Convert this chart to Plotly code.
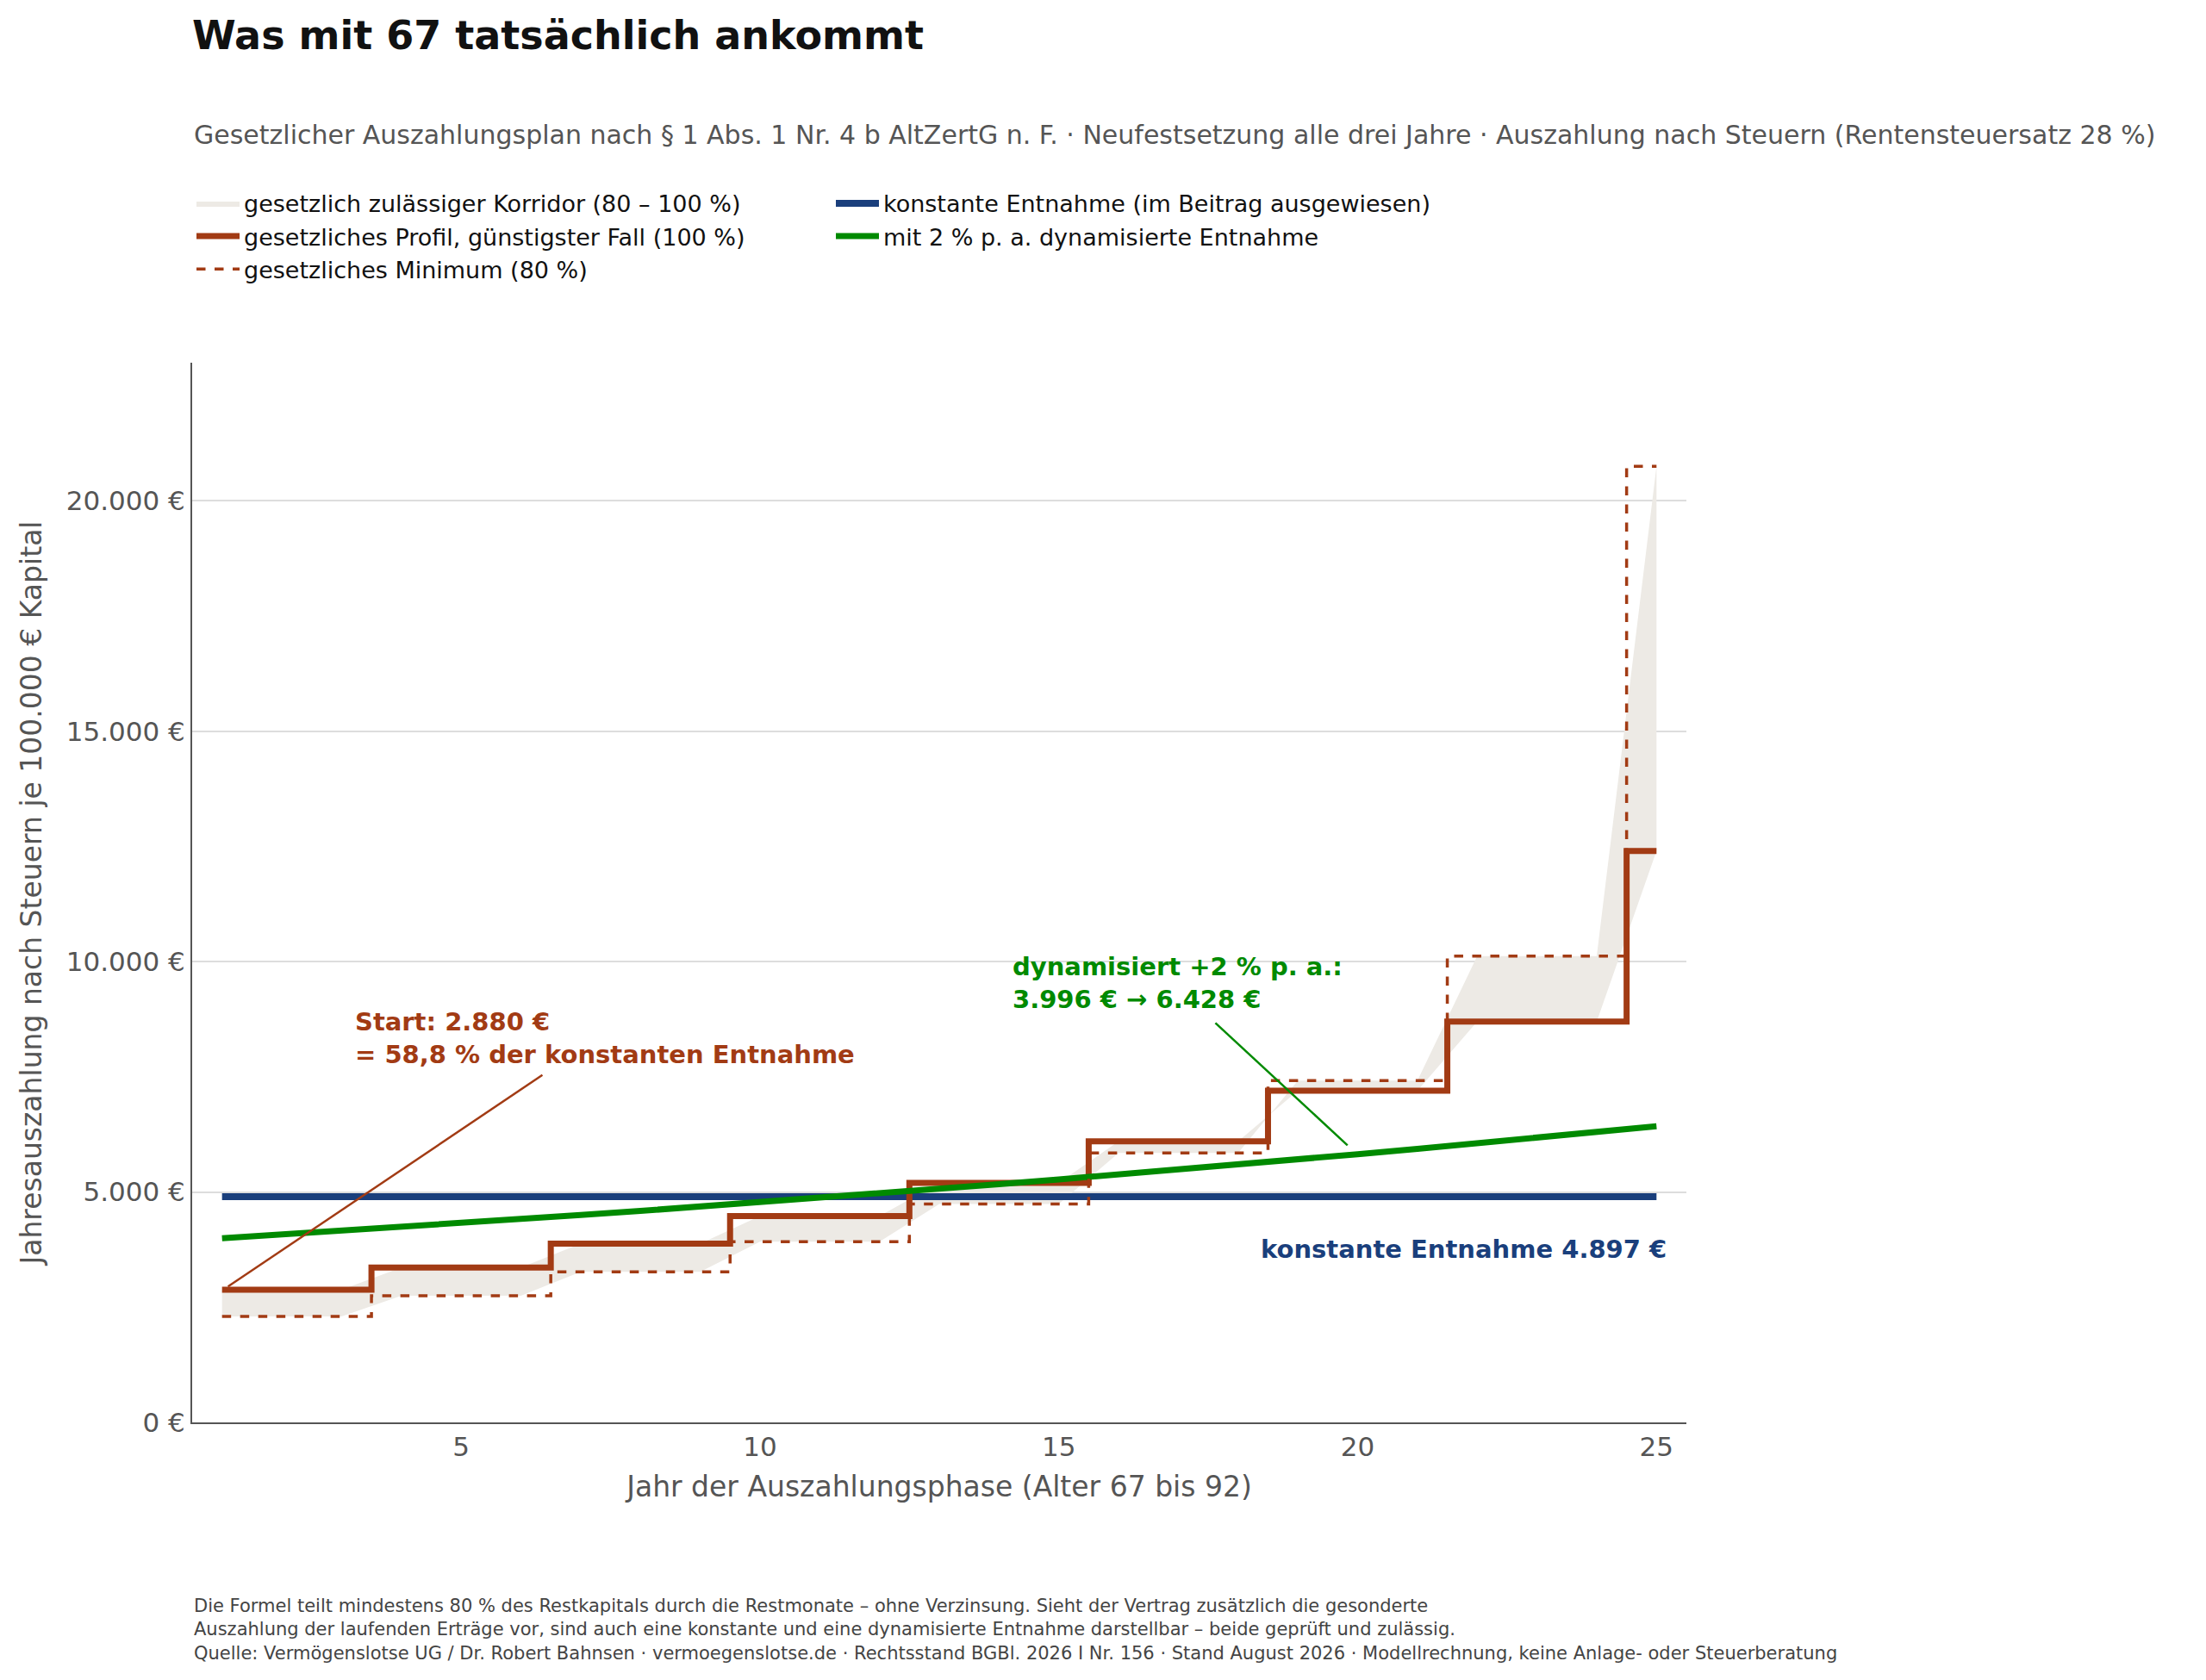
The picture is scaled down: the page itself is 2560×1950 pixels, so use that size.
import plotly.graph_objects as go

# Jahre der Auszahlungsphase
years = list(range(1, 26))

# gesetzliches Profil (100 %), Neufestsetzung alle drei Jahre
profile_100 = [2880, 2880, 2880, 3360, 3360, 3360, 3880, 3880, 3880,
               4480, 4480, 4480, 5200, 5200, 5200, 6100, 6100, 6100,
               7200, 7200, 7200, 8700, 8700, 8700, 12400]
# gesetzliches Minimum (80 %)
minimum_80 = [2300, 2300, 2300, 2750, 2750, 2750, 3270, 3270, 3270,
              3920, 3920, 3920, 4740, 4740, 4740, 5850, 5850, 5850,
              7420, 7420, 7420, 10120, 10120, 10120, 20750]
constant = [4897] * 25
dynamic = [3996, 4076, 4157, 4241, 4325, 4412, 4500, 4590, 4682, 4776,
           4871, 4969, 5068, 5169, 5273, 5378, 5486, 5595, 5707, 5821,
           5938, 6057, 6178, 6301, 6428]

y_ticks = [0, 5000, 10000, 15000, 20000]
y_labels = ["0 €", "5.000 €", "10.000 €", "15.000 €", "20.000 €"]
x_ticks = [5, 10, 15, 20, 25]

RED = "#A23B14"
BLUE = "#1A3F7C"
GREEN = "#008A00"
FILL = "#EDEAE5"
FONT = "DejaVu Sans"

fig = go.Figure()

# Korridor
fig.add_trace(go.Scatter(x=years, y=minimum_80, mode="lines", line=dict(width=0),
                         showlegend=False, hoverinfo="skip"))
fig.add_trace(go.Scatter(x=years, y=profile_100, mode="lines", line=dict(width=0),
                         fill="tonexty", fillcolor=FILL, legendrank=1,
                         name="gesetzlich zulässiger Korridor (80 – 100 %)"))

fig.add_trace(go.Scatter(x=years, y=constant, mode="lines", legendrank=2,
                         line=dict(color=BLUE, width=8),
                         name="konstante Entnahme (im Beitrag ausgewiesen)"))
fig.add_trace(go.Scatter(x=years, y=profile_100, mode="lines", legendrank=3,
                         line=dict(color=RED, width=7, shape="hvh"),
                         name="gesetzliches Profil, günstigster Fall (100 %)"))
fig.add_trace(go.Scatter(x=years, y=dynamic, mode="lines", legendrank=4,
                         line=dict(color=GREEN, width=7),
                         name="mit 2 % p. a. dynamisierte Entnahme"))
fig.add_trace(go.Scatter(x=years, y=minimum_80, mode="lines", legendrank=5,
                         line=dict(color=RED, width=3.5, dash="dash", shape="hvh"),
                         name="gesetzliches Minimum (80 %)"))

# Anmerkungslinien
fig.add_shape(type="line", x0=6.36, y0=7540, x1=1.1, y1=2950,
              line=dict(color=RED, width=2.5))
fig.add_shape(type="line", x0=17.62, y0=8670, x1=19.83, y1=6015,
              line=dict(color=GREEN, width=2.5))

fig.add_annotation(x=3.19, y=9050, xanchor="left", yanchor="top", showarrow=False,
                   align="left", font=dict(size=29, color=RED, family=FONT),
                   text="<b>Start: 2.880 €<br>= 58,8 % der konstanten Entnahme</b>")
fig.add_annotation(x=14.19, y=10250, xanchor="left", yanchor="top", showarrow=False,
                   align="left", font=dict(size=29, color=GREEN, family=FONT),
                   text="<b>dynamisiert +2 % p. a.:<br>3.996 € → 6.428 €</b>")
fig.add_annotation(x=25.19, y=3755, xanchor="right", yanchor="middle", showarrow=False,
                   font=dict(size=29, color=BLUE, family=FONT),
                   text="<b>konstante Entnahme 4.897 €</b>")

# Untertitel und Fußnote
fig.add_annotation(xref="paper", yref="paper", x=0, y=1.215, xanchor="left",
                   yanchor="middle", showarrow=False,
                   font=dict(size=30, color="#555555", family=FONT),
                   text="Gesetzlicher Auszahlungsplan nach § 1 Abs. 1 Nr. 4 b AltZertG n. F. · "
                        "Neufestsetzung alle drei Jahre · Auszahlung nach Steuern (Rentensteuersatz 28 %)")
fig.add_annotation(xref="paper", yref="paper", x=0, y=-0.162, xanchor="left",
                   yanchor="top", showarrow=False, align="left",
                   font=dict(size=21, color="#444444", family=FONT),
                   text="Die Formel teilt mindestens 80 % des Restkapitals durch die Restmonate – ohne Verzinsung. "
                        "Sieht der Vertrag zusätzlich die gesonderte<br>"
                        "Auszahlung der laufenden Erträge vor, sind auch eine konstante und eine dynamisierte "
                        "Entnahme darstellbar – beide geprüft und zulässig.<br>"
                        "Quelle: Vermögenslotse UG / Dr. Robert Bahnsen · vermoegenslotse.de · Rechtsstand BGBl. "
                        "2026 I Nr. 156 · Stand August 2026 · Modellrechnung, keine Anlage- oder Steuerberatung")

fig.update_layout(
    width=2560, height=1950,
    margin=dict(l=215, r=611, t=413, b=307),
    paper_bgcolor="white", plot_bgcolor="white",
    font=dict(family=FONT, size=28, color="#222222"),
    title=dict(text="<b>Was mit 67 tatsächlich ankommt</b>", x=215 / 2560, xanchor="left",
               y=1 - 33 / 1950, yanchor="middle", font=dict(size=46, color="#111111")),
    legend=dict(orientation="h", x=0, xanchor="left", y=1.17, yanchor="top",
                entrywidth=677, entrywidthmode="pixels", traceorder="normal",
                font=dict(size=27, color="#111111"), bgcolor="rgba(0,0,0,0)",
                itemwidth=50, tracegroupgap=4),
    xaxis=dict(range=[0.5, 25.5], tickvals=x_ticks, showgrid=False, zeroline=False,
               showline=True, linecolor="#555555", linewidth=2, ticks="",
               tickfont=dict(size=31, color="#555555"),
               title=dict(text="Jahr der Auszahlungsphase (Alter 67 bis 92)",
                          font=dict(size=33, color="#555555"), standoff=18)),
    yaxis=dict(range=[0, 23000], tickvals=y_ticks, ticktext=y_labels,
               showgrid=True, gridcolor="#DDDDDD", gridwidth=2, zeroline=False,
               showline=True, linecolor="#555555", linewidth=2, ticks="",
               tickfont=dict(size=31, color="#555555"),
               title=dict(text="Jahresauszahlung nach Steuern je 100.000 € Kapital",
                          font=dict(size=33, color="#555555"), standoff=18)),
)

fig.write_html("out.html")
